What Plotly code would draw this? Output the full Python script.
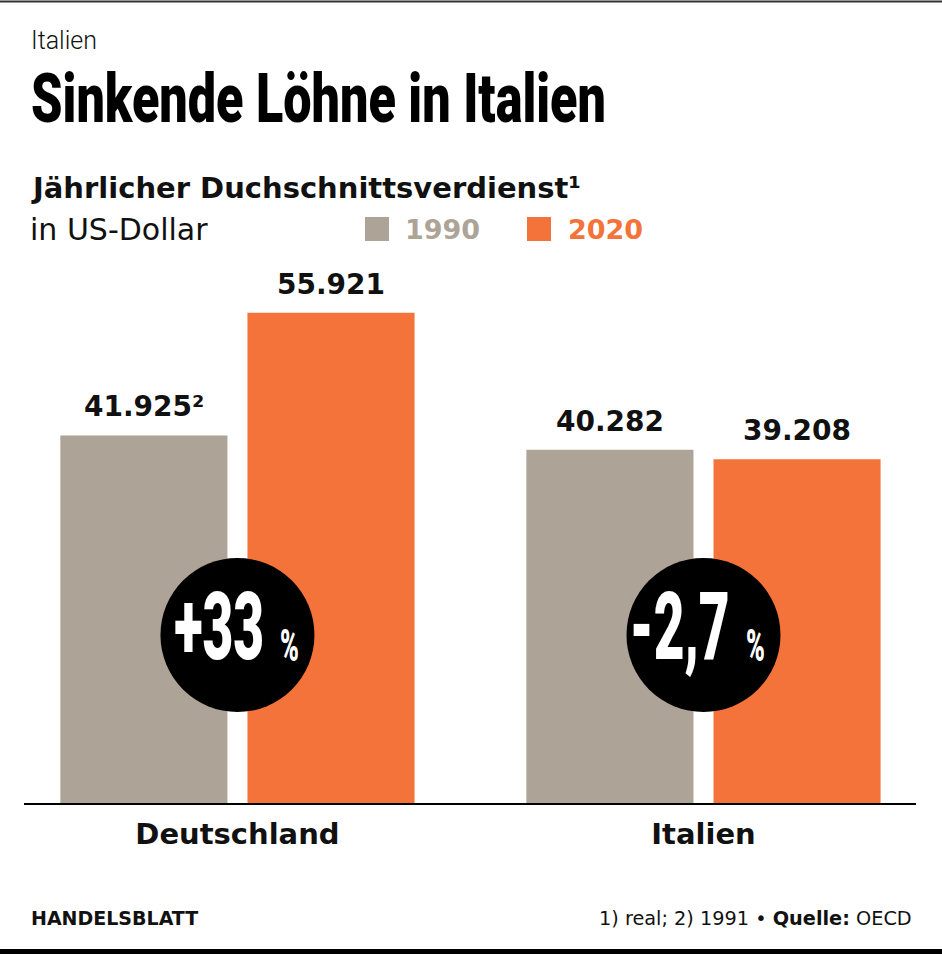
import plotly.graph_objects as go

# ---- data ----
countries = ["Deutschland", "Italien"]
years = ["1990", "2020"]
values_1990 = [41925, 40282]
values_2020 = [55921, 39208]
footnotes_1990 = ["²", ""]  # footnote markers on 1990 labels

GRAY = "#ADA397"
ORANGE = "#F4733A"
W, H = 942, 954
ML, MR, MT, MB = 24, 26, 277, 151
PW, PH = W - ML - MR, H - MT - MB

def px(x):  # pixel x -> paper x
    return (x - ML) / PW

def py(y):  # pixel y -> paper y
    return (H - MB - y) / PH

BODY = "DejaVu Sans, Liberation Sans, Arial, sans-serif"
HEAVY = "Roboto, Liberation Sans, sans-serif"

fig = go.Figure()
fig.add_trace(go.Bar(x=countries, y=values_1990, name=years[0], marker_color=GRAY,
                     marker_line_width=0))
fig.add_trace(go.Bar(x=countries, y=values_2020, name=years[1], marker_color=ORANGE,
                     marker_line_width=0))

def fmt(v):
    return f"{v:,}".replace(",", ".")

CY = 635  # circle centre (px)
ann = []
shapes = []
for i, c in enumerate(countries):
    for vals, shift, fn in ((values_1990, -93.5, footnotes_1990[i]), (values_2020, 93.5, "")):
        t = "<b>" + fmt(vals[i]) + fn + "</b>"
        ann.append(dict(x=c, y=vals[i], xref="x", yref="y", text=t, showarrow=False,
                        xshift=shift, yshift=10, yanchor="bottom", xanchor="center",
                        font=dict(family=BODY, size=28, color="#111")))
    ch = (values_2020[i] / values_1990[i] - 1) * 100
    s = f"{ch:+.0f}" if abs(ch) >= 10 else f"{ch:+.1f}".replace(".", ",")
    ann.append(dict(x=c, y=py(627), xref="x", yref="paper", showarrow=False, text=s,
                    xanchor="right", yanchor="middle", xshift=29,
                    font=dict(family=HEAVY, size=94, color="white", weight=900)))
    ann.append(dict(x=c, y=py(645), xref="x", yref="paper", showarrow=False, text="%",
                    xanchor="left", yanchor="middle", xshift=41,
                    font=dict(family=HEAVY, size=45, color="white", weight=900)))
    shapes.append(dict(type="circle", xref="x", yref="paper", xsizemode="pixel", ysizemode="pixel",
                       xanchor=i, yanchor=py(CY), x0=-77, x1=77, y0=-77, y1=77,
                       fillcolor="black", line_width=0, layer="above"))

# borders
shapes.append(dict(type="line", xref="paper", yref="paper", x0=px(0), x1=px(W), y0=py(1.5), y1=py(1.5),
                   line=dict(color="#333", width=2)))
shapes.append(dict(type="line", xref="paper", yref="paper", x0=px(0), x1=px(W), y0=py(951.5), y1=py(951.5),
                   line=dict(color="black", width=5)))

# legend squares
for xs, col in ((365, GRAY), (527, ORANGE)):
    shapes.append(dict(type="rect", xref="paper", yref="paper", x0=px(xs), x1=px(xs + 24),
                       y0=py(241), y1=py(217), fillcolor=col, line_width=0))

texts = [
    (29, 40, "Italien", dict(family="Roboto, sans-serif", size=25, color="#111", weight=300), "left"),
    (29, 99, "Sinkende Löhne in Italien", dict(family=HEAVY, size=68, color="black", weight=900), "left"),
    (29, 188, "<b>Jährlicher Duchschnittsverdienst¹</b>", dict(family=BODY, size=29, color="#111"), "left"),
    (28, 229, "in US-Dollar", dict(family=BODY, size=30, color="#111"), "left"),
    (403, 229, f"<b>{years[0]}</b>", dict(family=BODY, size=27, color=GRAY), "left"),
    (566, 229, f"<b>{years[1]}</b>", dict(family=BODY, size=27, color=ORANGE), "left"),
    (29, 918, "<b>HANDELSBLATT</b>", dict(family=BODY, size=19, color="#111"), "left"),
    (914, 918, "1) real; 2) 1991 • <b>Quelle:</b> OECD", dict(family=BODY, size=19.3, color="#111"), "right"),
]
for x, y, t, f, xa in texts:
    ann.append(dict(x=px(x), y=py(y), xref="paper", yref="paper", text=t, showarrow=False,
                    xanchor=xa, yanchor="middle", font=f))

fig.update_layout(
    width=W, height=H, margin=dict(l=ML, r=MR, t=MT, b=MB),
    paper_bgcolor="white", plot_bgcolor="white",
    barmode="group", bargap=0.197, bargroupgap=0.107,
    showlegend=False,
    annotations=ann, shapes=shapes,
    xaxis=dict(range=[-0.458, 1.456], showline=True, linecolor="black", linewidth=1.5,
               ticks="", tickfont=dict(family=BODY, size=29, color="#111", weight="bold"),
               ticklabelstandoff=4, showgrid=False),
    yaxis=dict(range=[0, 60000], visible=False, showgrid=False, zeroline=False),
)

post = """
document.body.style.margin = '0';
var gd = document.getElementById('{plot_id}');
var texts = gd.querySelectorAll('text.annotation-text');
var g = 0.6;
texts.forEach(function(t){
  if (t.textContent.indexOf('Sinkende') === 0) {
    var f = 575 / t.getBBox().width;
    t.style.transformBox = 'fill-box'; t.style.transformOrigin = 'left center';
    t.style.transform = 'scaleX(' + f + ')';
  }
  if (t.textContent === '+33') { g = 90 / t.getBBox().width; }
});
texts.forEach(function(t){
  var s = t.textContent;
  if (/^[+\\-][0-9]/.test(s)) {
    t.style.transformBox = 'fill-box'; t.style.transformOrigin = 'right center';
    t.style.transform = 'scaleX(' + g + ')';
  } else if (s === '%') {
    t.style.transformBox = 'fill-box'; t.style.transformOrigin = 'left center';
    t.style.transform = 'scaleX(' + g + ')';
  }
});
"""
fig.write_html("out.html", post_script=post, config={"displayModeBar": False})
